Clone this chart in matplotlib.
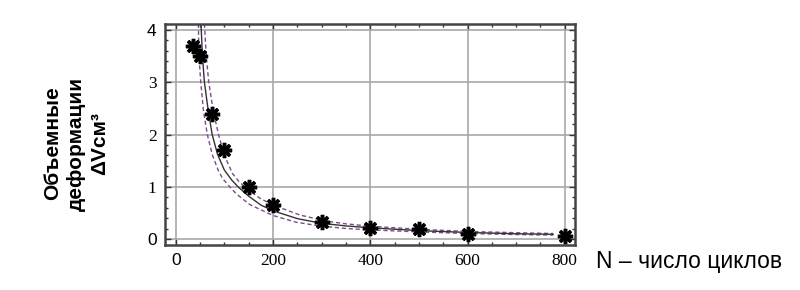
import matplotlib.pyplot as plt
from matplotlib.ticker import MultipleLocator

# measured points (N cycles, volume deformation)
n_pts = [35, 50, 75, 100, 150, 200, 300, 400, 500, 600, 800]
dv_pts = [3.7, 3.5, 2.4, 1.7, 1.0, 0.65, 0.32, 0.21, 0.19, 0.1, 0.055]

# fitted curve
fit_n = [52, 55, 59, 67, 75, 86, 100, 115, 128, 150, 175, 200, 250, 300, 350, 400, 500, 600, 700, 776]
fit_dv = [4.12, 3.5, 3.0, 2.45, 2.0, 1.62, 1.32, 1.13, 1.0, 0.82, 0.65, 0.54, 0.39, 0.30, 0.25, 0.215, 0.16, 0.125, 0.10, 0.09]

# upper / lower confidence bands
up_n = [59, 63, 68, 77, 88, 100, 117, 130, 148, 173, 200, 255, 310, 350, 400, 500, 600, 700, 776]
up_dv = [4.12, 3.48, 3.0, 2.46, 2.0, 1.6, 1.25, 1.1, 0.95, 0.78, 0.65, 0.46, 0.34, 0.29, 0.245, 0.185, 0.145, 0.12, 0.105]
lo_n = [46.5, 48, 51.5, 57, 65, 75, 88, 97, 111, 125, 152, 200, 248, 296, 351, 400, 500, 600, 700, 776]
lo_dv = [4.12, 3.48, 3.0, 2.46, 2.0, 1.62, 1.3, 1.15, 1.0, 0.86, 0.66, 0.45, 0.32, 0.25, 0.20, 0.175, 0.135, 0.105, 0.085, 0.075]

x_ticks = [0, 200, 400, 600, 800]
y_ticks = [0, 1, 2, 3, 4]

plt.rcParams['font.family'] = ['Liberation Serif', 'DejaVu Serif']
purple = '#7d4b8e'

fig = plt.figure(figsize=(8, 2.9), dpi=100)
ax = fig.add_axes([0.20625, 0.1552, 0.5125, 0.762])

ax.plot(up_n, up_dv, color=purple, lw=1.0, ls=(0, (3, 2)))
ax.plot(lo_n, lo_dv, color=purple, lw=1.0, ls=(0, (3, 2)))
ax.plot(fit_n, fit_dv, color='#333333', lw=1.0)
ax.plot(n_pts, dv_pts, ls='none', marker=(8, 2, 0), ms=11, mew=2.5, color='black')

ax.set_xlim(-22, 821)
ax.set_ylim(-0.115, 4.115)
ax.set_xticks(x_ticks)
ax.set_yticks(y_ticks)
ax.set_xticklabels([str(v) for v in x_ticks])
ax.set_yticklabels([str(v) for v in y_ticks])
ax.xaxis.set_minor_locator(MultipleLocator(50))
ax.yaxis.set_minor_locator(MultipleLocator(0.2))

ax.set_axisbelow(True)
ax.grid(True, which='major', color='#a8a8a8', lw=1.2)
ax.tick_params(which='both', direction='in', top=True, right=True, color='#333333')
ax.tick_params(which='major', length=4, width=1, labelsize=12.5, pad=6)
ax.tick_params(which='minor', length=2.5, width=1)
for s in ax.spines.values():
    s.set_color('#444444')
    s.set_linewidth(1.8)

# the "0" and "4" labels are set in a sans face in the original
for lab in [ax.get_yticklabels()[0], ax.get_yticklabels()[-1], ax.get_xticklabels()[0]]:
    lab.set_family('Liberation Sans')
    lab.set_fontsize(12.5)

fig.text(0.095, 0.505, 'Объемные\nдеформации\nΔVсм³', rotation=90,
         ha='center', va='center', multialignment='center', linespacing=1.3,
         fontsize=15, fontweight='bold', family='Liberation Sans')
fig.text(0.745, 0.076, 'N – число циклов', ha='left', va='baseline',
         fontsize=16.5, family='Liberation Sans')

fig.savefig('out.png', dpi=100)
